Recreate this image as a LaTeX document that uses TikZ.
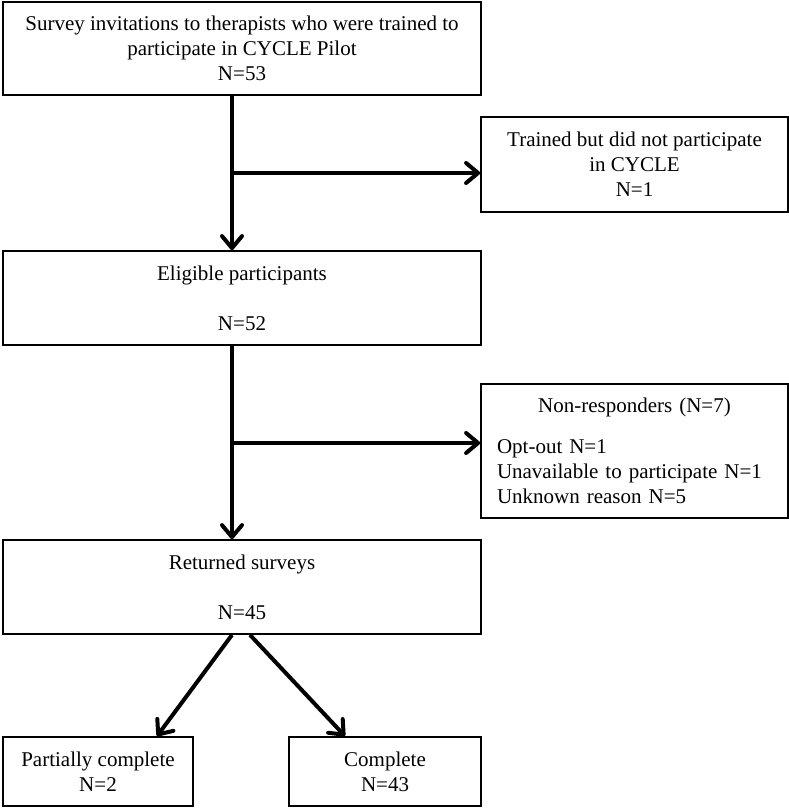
\documentclass[tikz,border=0pt]{standalone}
\usepackage{fontspec}
\setmainfont{Liberation Serif}
\usepackage{tikz}
\usetikzlibrary{arrows.meta,positioning}

\tikzset{
	flowbox/.style={draw, line width=1.8pt, align=center, inner sep=0pt, font=\fontsize{21}{25}\selectfont},
	flowarrow/.style={line width=4pt, -{Straight Barb[length=12pt,width=20pt,line cap=round,line join=round]}}
}

\begin{document}
\begin{tikzpicture}[x=1pt,y=-1pt]
	\useasboundingbox (0,0) rectangle (789,808);
	\node[flowbox, minimum width=478pt, minimum height=93pt] (invite) at (242,48.5) {Survey invitations to therapists who were trained to\\participate in CYCLE Pilot\\N=53};
	\node[flowbox, minimum width=307pt, minimum height=95pt] (notpart) at (634.5,164.5) {Trained but did not participate\\in CYCLE\\N=1};
	\node[flowbox, minimum width=478pt, minimum height=94pt] (eligible) at (242,298) {Eligible participants\\[25pt]N=52};
	\node[flowbox, minimum width=307pt, minimum height=134pt, text width=275pt, align=left] (nonresp) at (634.5,451) {\makebox[275pt]{Non-responders (N=7)}\\[16pt]Opt-out N=1\\Unavailable to participate N=1\\Unknown reason N=5};
	\node[flowbox, minimum width=478pt, minimum height=94pt] (returned) at (242,587) {Returned surveys\\[25pt]N=45};
	\node[flowbox, minimum width=190pt, minimum height=69pt] (partial) at (98,771.5) {Partially complete\\N=2};
	\node[flowbox, minimum width=192pt, minimum height=69pt] (complete) at (385,771.5) {Complete\\N=43};
	\coordinate (fork1) at (232,173);
	\coordinate (fork2) at (232,443);
	\draw[flowarrow] ([xshift=-10pt]invite.south) -- ([xshift=-10pt]eligible.north);
	\draw[flowarrow] (fork1) -- (fork1 -| notpart.west);
	\draw[flowarrow] ([xshift=-10pt]eligible.south) -- ([xshift=-10pt]returned.north);
	\draw[flowarrow] (fork2) -- (fork2 -| nonresp.west);
	\draw[flowarrow] ([xshift=-10pt]returned.south) -- ([xshift=59pt]partial.north);
	\draw[flowarrow] ([xshift=8pt]returned.south) -- ([xshift=-40pt]complete.north);
\end{tikzpicture}
\end{document}
